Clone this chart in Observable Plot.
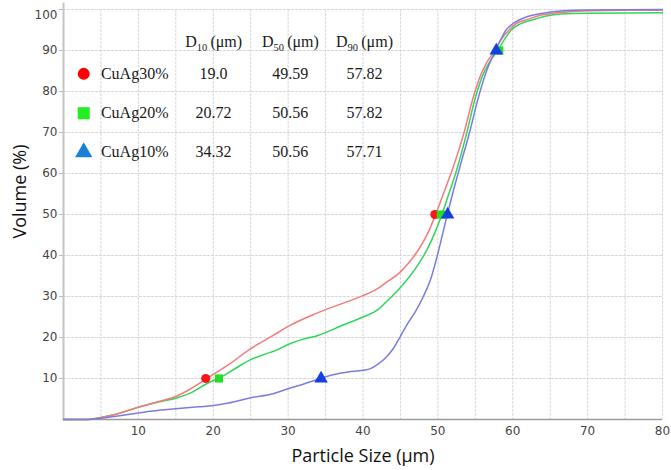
<!DOCTYPE html>
<html>
<head>
<meta charset="utf-8">
<script src="https://cdn.jsdelivr.net/npm/d3@7"></script>
<script src="https://cdn.jsdelivr.net/npm/@observablehq/plot@0.6"></script>
<style>
  html, body { margin: 0; padding: 0; background: #fff; }
</style>
</head>
<body>
<div id="chart"></div>
<script>
// ---------- data ----------
const curveCuAg30 = [[0,0],[3,0],[5,0.5],[7,1.3],[10,3.0],[13,4.5],[15,5.6],[17,7.5],[19,9.8],[20,11],[22,13.3],[25,17.3],[28,20.5],[30,22.7],[33,25.3],[35,26.8],[38,28.8],[40,30.2],[42,32],[43,33.3],[45,36],[46,38],[47,40.3],[48,43.2],[48.8,46],[49.7,50],[50.5,53.9],[51.3,57.8],[52.1,61.8],[53.5,70],[54.6,77.8],[55.5,83],[56.5,87],[57.6,90],[58.5,92.8],[59.5,95],[60.5,96.6],[62,97.6],[64,98.7],[65.5,99.1],[68,99.5],[70.5,99.7],[75,99.8],[80,99.8]];
const curveCuAg20 = [[0,0],[3,0],[5,0.5],[7,1.3],[10,3.0],[13,4.4],[15,5.2],[17,6.5],[19,8.6],[20,9.5],[21,10.3],[23,12.5],[25,14.6],[27,16.0],[28.3,16.8],[30,18.3],[32,19.6],[34,20.5],[35,21.2],[37,22.8],[40,25],[42,26.8],[43,28.5],[45,32.2],[47.3,37.6],[48.6,41.6],[49.7,46],[50.5,49.8],[51.2,53.6],[52.5,60.8],[53.9,70.2],[54.9,77.8],[56,84],[57,87.5],[58,90],[59,93],[59.8,95],[61,96.5],[62.7,97.5],[64.5,98.4],[66.4,98.9],[70,99.1],[80,99.2]];
const curveCuAg10 = [[0,0],[3,0],[5,0.3],[7,0.8],[10,1.6],[13,2.3],[15,2.6],[18,3.1],[20,3.4],[22,4.0],[25,5.3],[28,6.3],[30,7.5],[32,8.6],[34.3,10],[36,10.9],[38,11.6],[40,12.0],[41,12.4],[42,13.5],[43,15.0],[44,17.2],[45,20.3],[46,23.5],[47,26.3],[48,29.8],[49,34],[50,40.5],[50.8,46.5],[51.3,50.3],[52,55.3],[53,62],[54.3,70.5],[55.3,77.8],[56.5,85],[57.7,90],[58.5,93],[59.1,95],[60,96.5],[60.9,97.5],[62,98.3],[63.8,99],[66.8,99.7],[70,99.9],[80,100]];

// markers drawn on the curves (position)
const circleX = [19.0, 49.6];   const circleY = [10, 50];
const squareX = [20.76, 50.4, 58.2]; const squareY = [10, 50, 90];
const triX = [34.4, 51.3, 57.8]; const triY = [10, 50, 90];

// table
const seriesNames = ["CuAg30%", "CuAg20%", "CuAg10%"];
const headers = ["D10 (μm)", "D50 (μm)", "D90 (μm)"];
const d10 = ["19.0", "20.72", "34.32"];
const d50 = ["49.59", "50.56", "50.56"];
const d90 = ["57.82", "57.82", "57.71"];

// ticks
const xTicks = [10, 20, 30, 40, 50, 60, 70, 80];
const xGrid = [5, 10, 15, 20, 25, 30, 35, 40, 45, 50, 55, 60, 65, 70, 75, 80];
const yTicks = [10, 20, 30, 40, 50, 60, 70, 80, 90];
const yTop = [100];
const yGrid = [10, 20, 30, 40, 50, 60, 70, 80, 90, 100];

// ---------- layout (table position in data units) ----------
const colX = [20.05, 30.3, 40.2];
const rowY = [84.3, 74.7, 65.2];
const headerY = 92.0;
const legendMarkX = 2.7;
const labelX = 5.0;

const pts = (xs, ys) => xs.map((x, i) => ({x, y: ys[i]}));
const headerCells = headers.map((h, j) => ({x: colX[j], y: headerY, t: h}));
const valueCells = [];
[d10, d50, d90].forEach((col, j) => col.forEach((v, i) => valueCells.push({x: colX[j], y: rowY[i], t: v})));
const nameCells = seriesNames.map((n, i) => ({x: labelX, y: rowY[i], t: n}));

const serif = "'Liberation Serif', 'Times New Roman', serif";
const sans = "'Open Sans', sans-serif";

const lineOpts = (stroke) => ({x: d => d[0], y: d => d[1], stroke, strokeWidth: 1.5, curve: "monotone-x"});

const chart = Plot.plot({
  width: 671,
  height: 470,
  marginLeft: 63,
  marginRight: 9,
  marginTop: 9,
  marginBottom: 51,
  style: {fontFamily: "'DejaVu Sans', sans-serif", fontSize: "12px", color: "#444", background: "#fff"},
  x: {domain: [0, 80]},
  y: {domain: [0, 100]},
  marks: [
    Plot.gridX(xGrid, {stroke: "#d8d8d8", strokeOpacity: 1, strokeDasharray: "3,1"}),
    Plot.gridY(yGrid, {stroke: "#d8d8d8", strokeOpacity: 1, strokeDasharray: "3,1"}),
    Plot.axisX(xTicks, {tickSize: 0, tickPadding: 7, label: null, fill: "#444"}),
    Plot.axisY(yTicks, {tickSize: 4, tickPadding: 2, label: null, stroke: "#bbb", fill: "#444"}),
    Plot.axisY(yTop, {tickSize: 4, tickPadding: 2, label: null, stroke: "#bbb", fill: "#444"}),
    Plot.ruleX([0], {y1: 0, y2: 101.5, stroke: "#c4c4c4", strokeWidth: 2}),
    Plot.ruleY([0], {stroke: "#9a9a9a", strokeWidth: 1.5}),
    Plot.line(curveCuAg20, lineOpts("#2fd65c")),
    Plot.line(curveCuAg30, lineOpts("#f57a7a")),
    Plot.line(curveCuAg10, lineOpts("#7c7ce0")),
    Plot.dot(pts(circleX, circleY), {x: "x", y: "y", r: 4.6, fill: "#ff1414", symbol: "circle"}),
    Plot.dot(pts(squareX, squareY), {x: "x", y: "y", r: 4.6, fill: "#22dd22", symbol: "square"}),
    Plot.dot(pts(triX, triY), {x: "x", y: "y", r: 5, fill: "#1440e0", symbol: "triangle"}),
    // table
    Plot.dot([{x: legendMarkX, y: rowY[0]}], {x: "x", y: "y", r: 6, fill: "#ff0000", symbol: "circle"}),
    Plot.dot([{x: legendMarkX, y: rowY[1]}], {x: "x", y: "y", r: 6.8, fill: "#22ee22", symbol: "square"}),
    Plot.dot([{x: legendMarkX, y: rowY[2]}], {x: "x", y: "y", r: 6.4, fill: "#1a7fd6", symbol: "triangle"}),
    Plot.text(nameCells, {x: "x", y: "y", text: "t", textAnchor: "start", fontSize: 16, fontFamily: serif, fill: "#1a1a1a"}),
    Plot.text(valueCells, {x: "x", y: "y", text: "t", fontSize: 16, fontFamily: serif, fill: "#1a1a1a"}),
    Plot.text(headerCells, {x: "x", y: "y", text: "t", fontSize: 16, fontFamily: serif, fill: "#1a1a1a"}),
    // axis titles
    Plot.text(["Particle Size (μm)"], {text: d => d, frameAnchor: "bottom", lineAnchor: "middle", textAnchor: "middle", dy: 37, fontSize: 18, fontFamily: sans, fill: "#111"}),
    Plot.text(["Volume (%)"], {text: d => d, frameAnchor: "left", textAnchor: "middle", lineAnchor: "middle", dx: -43, dy: -23, rotate: -90, fontSize: 18, fontFamily: sans, fill: "#111"})
  ]
});

// nudge the "100" tick label down like the reference and make subscripts
d3.select(chart).selectAll("text").each(function() {
  const t = this.textContent;
  if (t === "100") this.setAttribute("transform", (this.getAttribute("transform") || "") + " translate(0,6)");
  const m = /^D(\d\d) \(μm\)$/.exec(t);
  if (m) {
    this.textContent = "";
    const ns = "http://www.w3.org/2000/svg";
    const a = document.createElementNS(ns, "tspan"); a.textContent = "D";
    const b = document.createElementNS(ns, "tspan"); b.textContent = m[1]; b.setAttribute("font-size", "10.5"); b.setAttribute("dy", "4");
    const c = document.createElementNS(ns, "tspan"); c.textContent = "\u2009(μm)"; c.setAttribute("dy", "-4");
    this.append(a, b, c);
  }
});

document.getElementById("chart").appendChild(chart);
</script>
</body>
</html>
